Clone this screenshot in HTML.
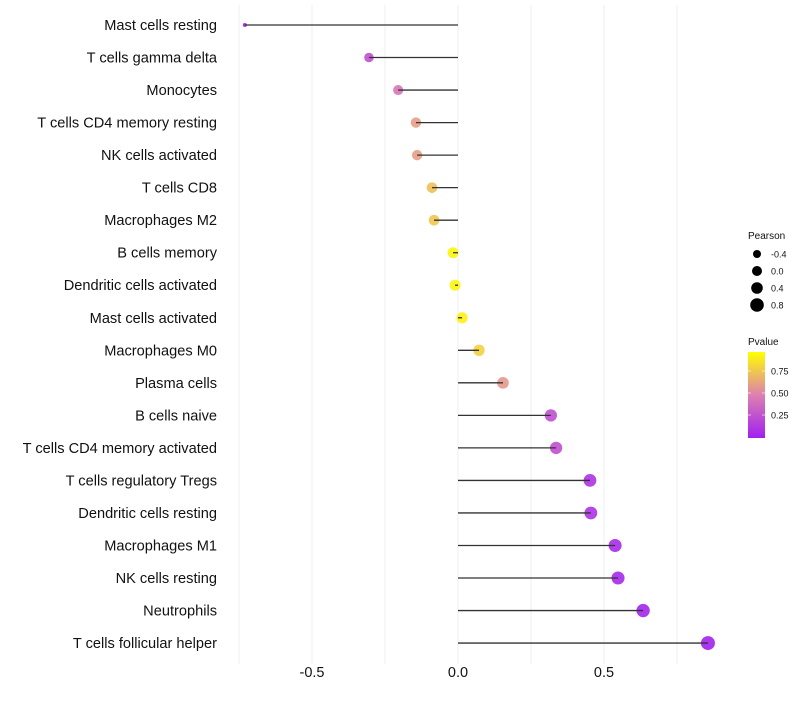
<!DOCTYPE html>
<html><head><meta charset="utf-8"><style>
body{margin:0;background:#fff;font-family:"Liberation Sans",sans-serif}
</style></head><body>
<svg id="chart" width="800" height="700" xmlns="http://www.w3.org/2000/svg">
<defs><linearGradient id="pg" x1="0" y1="1" x2="0" y2="0">
<stop offset="0" stop-color="#a020f0"/><stop offset="0.5" stop-color="#dd80b0"/><stop offset="1" stop-color="#ffff00"/>
</linearGradient></defs>
<g id="grid"></g><g id="marks"></g><g id="labels"></g><g id="legend"></g>
</svg>
<script>
const categories=["Mast cells resting","T cells gamma delta","Monocytes","T cells CD4 memory resting","NK cells activated","T cells CD8","Macrophages M2","B cells memory","Dendritic cells activated","Mast cells activated","Macrophages M0","Plasma cells","B cells naive","T cells CD4 memory activated","T cells regulatory  Tregs ","Dendritic cells resting","Macrophages M1","NK cells resting","Neutrophils","T cells follicular helper"];
const pearson=[-0.73,-0.305,-0.205,-0.144,-0.14,-0.089,-0.082,-0.017,-0.01,0.014,0.072,0.154,0.318,0.336,0.452,0.455,0.538,0.548,0.634,0.856];
const pvalue=[0.0,0.25,0.45,0.62,0.62,0.75,0.78,0.96,0.96,0.95,0.82,0.6,0.25,0.25,0.1,0.1,0.06,0.05,0.03,0.01];
const xTicks=[-0.5,0,0.5];
const xTickLabels=["-0.5","0.0","0.5"];
const minorTicks=[-0.75,-0.25,0.25,0.75];
const sizeLegend=[-0.4,0.0,0.4,0.8];
const pLegend=[0.25,0.5,0.75];
const NS="http://www.w3.org/2000/svg";
const x=v=>458+v*292;
const y=i=>25+i*32.53;
const r=v=>2+5*Math.pow(Math.max(0,(v+0.73)/1.586),0.45);
function col(p){p=Math.max(0,Math.min(1,p));const a=[160,32,240],b=[221,128,176],c=[255,255,0];let s,e,t;if(p<0.5){s=a;e=b;t=p/0.5}else{s=b;e=c;t=(p-0.5)/0.5}return `rgb(${s.map((v,k)=>Math.round(v+(e[k]-v)*t)).join(',')})`;}
function mk(tag,at,parent,txt){const el=document.createElementNS(NS,tag);for(const k in at)el.setAttribute(k,at[k]);if(txt!==undefined)el.textContent=txt;document.getElementById(parent).appendChild(el);return el;}
minorTicks.concat(xTicks).forEach(t=>{const l=mk('line',{x1:x(t),x2:x(t),y1:5,y2:664,stroke:'#efefef','stroke-width':1},'grid');

});
xTicks.forEach((t,i)=>{const tx=mk('text',{x:x(t),y:677,'text-anchor':'middle','font-size':14.5,fill:'#111'},'labels',xTickLabels[i]);

});
categories.forEach((c,i)=>{
const tx=mk('text',{x:217,y:y(i)+5,'text-anchor':'end','font-size':14.6,fill:'#111'},'labels',c);


const cir=mk('circle',{cx:x(pearson[i]),cy:y(i),r:r(pearson[i]),fill:col(pvalue[i]),'fill-opacity':0.9},'marks');


const ln=mk('line',{x1:x(0),x2:x(pearson[i]),y1:y(i),y2:y(i),stroke:'#333','stroke-width':1.3},'marks');


});
const t1=mk('text',{x:748,y:239,'font-size':10,fill:'#111'},'legend','Pearson');


const lr=[4,5,5.8,6.8];
sizeLegend.forEach((v,i)=>{const cy=254+i*17;
const c=mk('circle',{cx:757,cy:cy,r:lr[i],fill:'#000'},'legend');


const t=mk('text',{x:771,y:cy+3.5,'font-size':9,fill:'#111'},'legend',v.toFixed(1));

});
const t2=mk('text',{x:748,y:345,'font-size':10,fill:'#111'},'legend','Pvalue');


const bar=mk('rect',{x:748,y:352,width:17,height:86,fill:'url(#pg)'},'legend');


pLegend.forEach(p=>{const yy=437-p*88;
const t=mk('text',{x:771,y:yy+3.5,'font-size':9,fill:'#111'},'legend',p.toFixed(2));


mk('line',{x1:748,x2:751,y1:yy,y2:yy,stroke:'#fff','stroke-opacity':0.6},'legend');
mk('line',{x1:762,x2:765,y1:yy,y2:yy,stroke:'#fff','stroke-opacity':0.6},'legend');});
</script>
</body></html>
